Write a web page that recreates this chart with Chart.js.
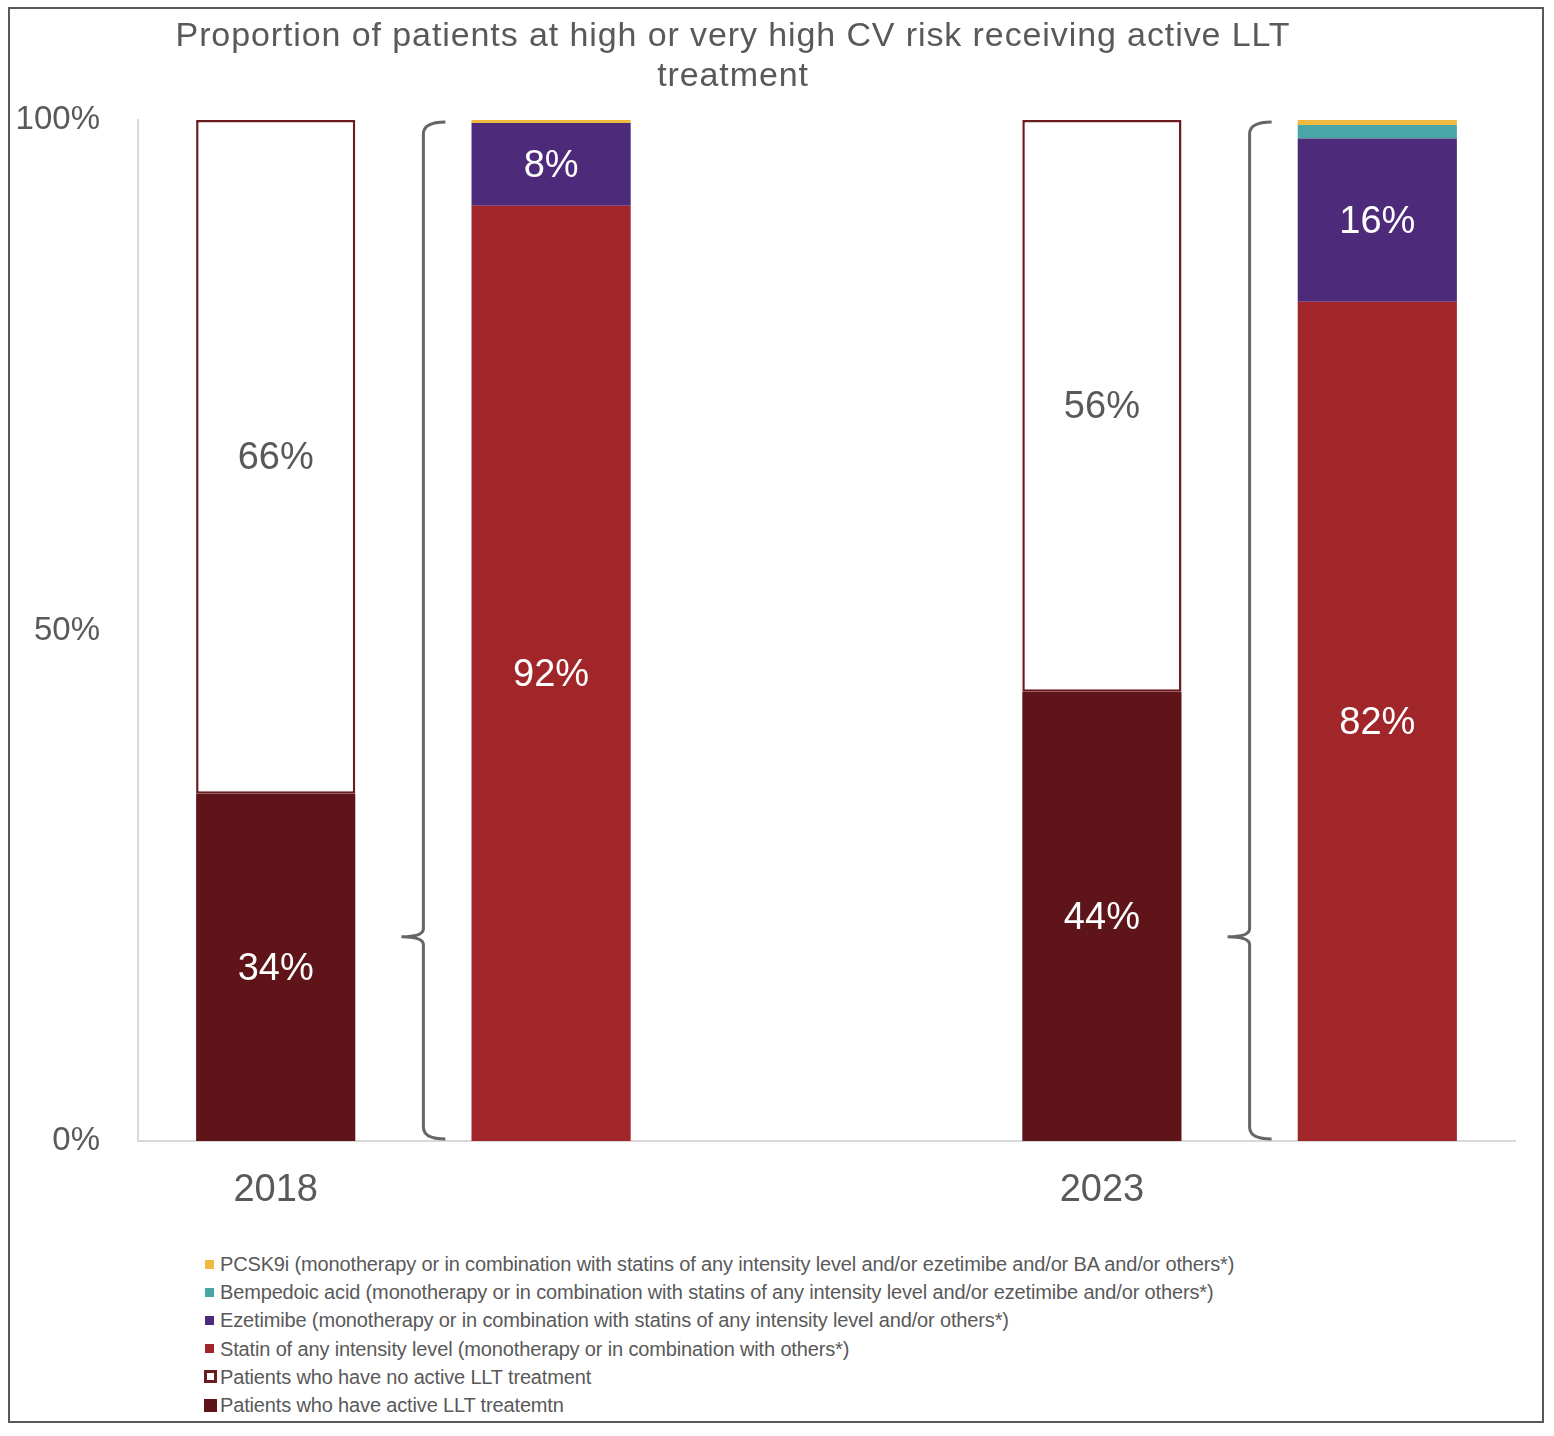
<!DOCTYPE html>
<html>
<head>
<meta charset="utf-8">
<script src="https://cdn.jsdelivr.net/npm/chart.js@4"></script>
<style>
  body { margin: 0; background: #fff; font-family: "Liberation Sans", Arial, sans-serif; }
  #box { position: absolute; left: 8px; top: 7px; width: 1532px; height: 1412px; border: 2px solid #595959; }
  #wrap { position: absolute; left: 0; top: 0; width: 1532px; height: 1235px; }
  #legend { position: absolute; left: 194px; top: 1241px; color: #595959; font-size: 20px; letter-spacing: -0.15px; }
  #legend div { height: 28.2px; line-height: 28.2px; white-space: nowrap; display: flex; align-items: center; }
  #legend span.sw { display: inline-block; width: 9px; height: 9px; box-sizing: border-box; }
</style>
</head>
<body>
<div id="box">
  <div id="wrap"><canvas id="llt"></canvas></div>
  <div id="legend"></div>
</div>
<script>
// Data
const categories = ['2018', '', '', '2023', ''];
const activeLLT   = [34, null, null, 44, null];
const noActiveLLT = [66, null, null, 56, null];
const statin      = [null, 91.6, null, null, 82.2];
const ezetimibe   = [null, 8.1, null, null, 16.0];
const bempedoic   = [null, 0, null, null, 1.3];
const pcsk9i      = [null, 0.3, null, null, 0.5];
const yTicks = [0, 50, 100];
const titleLines = ['Proportion of patients at high or very high CV risk receiving active LLT', 'treatment'];

const grey = '#595959';
const font = '"Liberation Sans", Arial, sans-serif';

// draw title, value labels and braces
const decor = {
  id: 'decor',
  afterDatasetsDraw(chart) {
    const ctx = chart.ctx;
    const xs = chart.scales.x, ys = chart.scales.y;
    ctx.save();
    // value labels
    ctx.font = '38px ' + font;
    ctx.textAlign = 'center';
    ctx.textBaseline = 'middle';
    chart.data.datasets.forEach((ds, i) => {
      const meta = chart.getDatasetMeta(i);
      meta.data.forEach((bar, j) => {
        const v = ds.data[j];
        if (v == null || v < 5) return;
        const p = bar.getProps(['x', 'y', 'base'], true);
        ctx.fillStyle = ds.labelColor;
        ctx.fillText(Math.round(v) + '%', p.x, (p.y + p.base) / 2 + 2);
      });
    });
    // braces between each year's two bars
    ctx.strokeStyle = '#666666';
    ctx.lineWidth = 3;
    [0, 3].forEach(i => {
      const x = (xs.getPixelForValue(i) + xs.getPixelForValue(i + 1)) / 2 + 10;
      const top = ys.getPixelForValue(100) + 2;
      const bot = ys.getPixelForValue(0) - 2;
      const mid = ys.getPixelForValue(20);
      ctx.beginPath();
      ctx.moveTo(x + 22, top);
      ctx.quadraticCurveTo(x, top, x, top + 12);
      ctx.lineTo(x, mid - 8);
      ctx.quadraticCurveTo(x, mid, x - 22, mid);
      ctx.quadraticCurveTo(x, mid, x, mid + 8);
      ctx.lineTo(x, bot - 12);
      ctx.quadraticCurveTo(x, bot, x + 22, bot);
      ctx.stroke();
    });
    // title
    ctx.fillStyle = grey;
    ctx.font = '34px ' + font;
    ctx.letterSpacing = '0.9px';
    titleLines.forEach((t, k) => ctx.fillText(t, 723, 28 + k * 40));
    ctx.restore();
  }
};

const ctx = document.getElementById('llt').getContext('2d');
const chart = new Chart(ctx, {
  type: 'bar',
  data: {
    labels: categories,
    datasets: [
      { label: 'Patients who have active LLT treatemtn', data: activeLLT, backgroundColor: '#5E1418', labelColor: '#ffffff' },
      { label: 'Patients who have no active LLT treatment', data: noActiveLLT, backgroundColor: '#ffffff', borderColor: '#6A1C20', borderWidth: 2.5, borderSkipped: false, labelColor: grey },
      { label: 'Statin of any intensity level (monotherapy or in combination with others*)', data: statin, backgroundColor: '#A0262A', labelColor: '#ffffff' },
      { label: 'Ezetimibe (monotherapy or in combination with statins of any intensity level and/or others*)', data: ezetimibe, backgroundColor: '#4E2A7B', labelColor: '#ffffff' },
      { label: 'Bempedoic acid (monotherapy or in combination with statins of any intensity level and/or ezetimibe and/or others*)', data: bempedoic, backgroundColor: '#4AA5A7', labelColor: '#ffffff' },
      { label: 'PCSK9i (monotherapy or in combination with statins of any intensity level and/or ezetimibe and/or BA and/or others*)', data: pcsk9i, backgroundColor: '#F0B93F', labelColor: '#ffffff' }
    ]
  },
  options: {
    responsive: true,
    maintainAspectRatio: false,
    animation: false,
    layout: { padding: { top: 111, right: 27, left: 0, bottom: 0 } },
    datasets: { bar: { categoryPercentage: 1, barPercentage: 0.578 } },
    scales: {
      x: {
        stacked: true,
        grid: { display: false },
        border: { display: true, color: '#D9D9D9', width: 2 },
        ticks: { color: grey, font: { size: 38, family: font }, padding: 19, maxRotation: 0, autoSkip: false },
        afterFit: s => { s.height = 103; }
      },
      y: {
        stacked: true,
        min: 0,
        max: 100,
        grid: { display: false },
        border: { display: true, color: '#D9D9D9', width: 2 },
        afterBuildTicks: s => { s.ticks = yTicks.map(v => ({ value: v })); },
        ticks: { color: grey, font: { size: 33, family: font }, padding: 30, callback: v => v + '%' },
        afterFit: s => { s.width = 128; }
      }
    },
    plugins: {
      legend: { display: false },
      title: { display: false },
      tooltip: { enabled: false }
    }
  },
  plugins: [decor]
});

// legend, in reverse dataset order
const leg = document.getElementById('legend');
chart.data.datasets.slice().reverse().forEach(ds => {
  const row = document.createElement('div');
  const sw = document.createElement('span');
  sw.className = 'sw';
  if (ds.borderColor) {
    sw.style.width = '13px'; sw.style.height = '13px';
    sw.style.border = '3px solid ' + ds.borderColor;
    sw.style.background = '#fff';
    sw.style.marginRight = '3px';
  } else if (ds.data === activeLLT) {
    sw.style.width = '13px'; sw.style.height = '13px';
    sw.style.background = ds.backgroundColor;
    sw.style.marginRight = '3px';
  } else {
    sw.style.background = ds.backgroundColor;
    sw.style.marginLeft = '1px';
    sw.style.marginRight = '6px';
  }
  row.appendChild(sw);
  row.appendChild(document.createTextNode(ds.label));
  leg.appendChild(row);
});
</script>
</body>
</html>
